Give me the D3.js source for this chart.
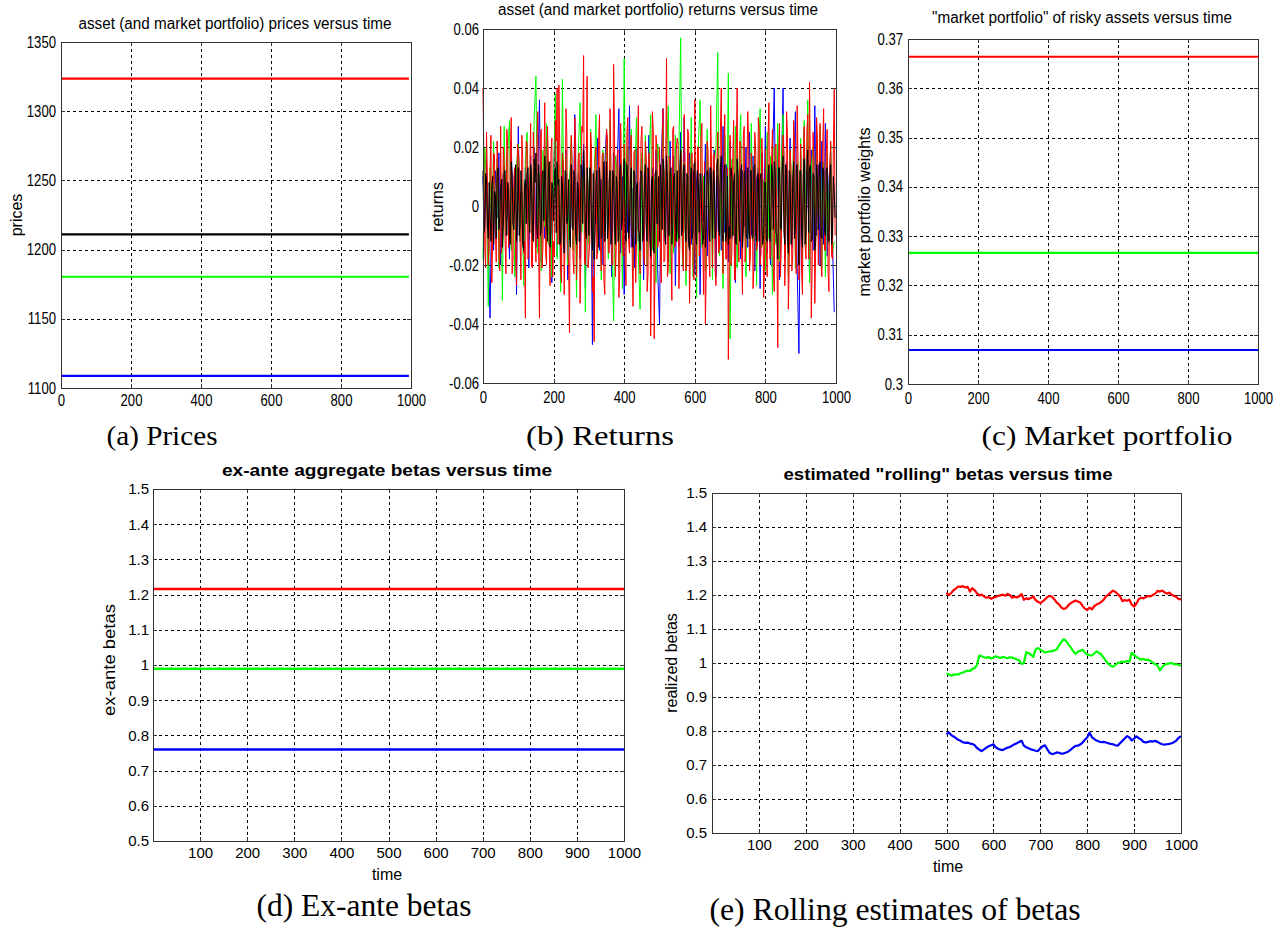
<!DOCTYPE html>
<html><head><meta charset="utf-8">
<script src="https://cdn.jsdelivr.net/npm/d3@7"></script>
<style>
body{margin:0;background:#fff;}
svg{display:block;background:#fff;}
</style></head><body>
<svg id="fig" width="1288" height="930"></svg>
<script>
// ================= DATA =================
const seriesNames  = ["asset 1", "asset 2", "asset 3", "market"];
const seriesColors = ["#0000ff", "#00ff00", "#ff0000", "#000000"];

// (a) prices (flat over time)
const priceLevels = [1108.7, 1180.4, 1323.5, 1211.0];
const priceTicks  = [1100, 1150, 1200, 1250, 1300, 1350];

// (c) market portfolio weights (3 risky assets)
const weightLevels = [0.3069, 0.3266, 0.3664];
const weightTicks  = [0.30, 0.31, 0.32, 0.33, 0.34, 0.35, 0.36, 0.37];

// (d) ex-ante betas
const betaLevels = [0.760, 0.989, 1.216];
const betaTicks  = [0.5, 0.6, 0.7, 0.8, 0.9, 1.0, 1.1, 1.2, 1.3, 1.4, 1.5];

// time ticks
const timeTicksTop    = [0, 200, 400, 600, 800, 1000];
const timeTicksBottom = [100, 200, 300, 400, 500, 600, 700, 800, 900, 1000];
const timeSpan = [0, 1000];
const priceSpan = [0, 994];

// (b) returns, sampled every 5 periods (t = 0..995); "B" arrays are the half-way samples (t = 2.5..997.5)
const retStep = 5;
const retTicks = [-0.06, -0.04, -0.02, 0, 0.02, 0.04, 0.06];
const retBlue = [
 0.010,-0.008,0.015,-0.012,-0.038,0.006,-0.015,0.012,-0.004,0.018,
 -0.020,0.008,0.014,-0.010,0.003,-0.018,0.022,-0.006,0.011,-0.030,
 0.027,-0.012,0.005,-0.016,0.013,0.004,-0.021,0.017,-0.009,0.020,
 -0.014,0.010,0.036,-0.019,0.007,-0.011,0.024,-0.004,0.015,-0.026,
 0.012,0.028,-0.017,0.006,-0.022,0.016,-0.008,0.019,-0.025,0.009,
 0.014,-0.013,0.031,-0.007,0.011,-0.018,0.005,0.021,-0.028,0.008,
 -0.010,0.017,-0.047,0.012,-0.006,0.023,-0.015,0.009,-0.020,0.014,
 0.026,-0.011,0.007,-0.024,0.018,-0.005,0.013,0.033,-0.016,0.010,
 -0.030,0.015,-0.009,0.034,-0.014,0.006,-0.021,0.020,-0.012,0.008,
 0.016,-0.025,0.011,-0.007,0.024,-0.018,0.013,-0.010,0.019,-0.022,
 -0.040,0.015,0.033,-0.012,0.008,-0.019,0.022,-0.006,0.017,-0.027,
 0.010,-0.014,0.025,-0.008,0.030,-0.020,0.006,0.018,-0.013,0.012,
 -0.023,0.009,0.016,-0.030,0.011,-0.005,0.021,-0.017,0.013,0.004,
 -0.012,0.019,-0.024,0.010,0.007,-0.015,0.027,-0.009,0.014,-0.019,
 0.022,-0.011,0.008,-0.026,0.016,0.005,-0.018,0.012,-0.007,0.020,
 -0.014,0.025,-0.010,0.017,-0.022,0.009,0.013,-0.028,0.018,-0.006,
 0.027,-0.016,0.011,-0.020,0.014,0.040,-0.012,0.021,-0.025,0.008,
 0.040,-0.018,0.015,-0.009,0.023,-0.014,0.010,0.032,-0.021,-0.050,
 0.017,-0.011,0.026,-0.008,0.012,-0.024,0.019,-0.015,0.034,-0.010,
 0.014,-0.020,0.022,-0.013,0.028,-0.017,0.009,0.018,-0.012,-0.036];
const retGreen = [
 -0.018,0.020,0.008,-0.034,0.013,-0.010,0.022,-0.006,0.016,-0.021,
 0.012,-0.032,0.027,-0.009,0.018,0.029,-0.015,0.006,-0.024,0.014,
 0.021,-0.012,0.009,-0.027,0.016,0.025,-0.008,0.013,-0.019,0.030,
 0.044,-0.016,0.011,-0.022,0.019,-0.007,0.028,-0.013,0.015,-0.024,
 0.010,0.038,-0.018,0.014,-0.029,0.043,-0.011,0.017,-0.020,0.008,
 0.023,-0.015,0.012,-0.031,0.018,0.035,-0.009,0.014,-0.036,0.021,
 -0.013,0.026,-0.020,0.010,0.031,-0.016,0.013,-0.025,0.019,-0.008,
 0.022,-0.018,0.029,-0.012,-0.039,0.017,0.011,-0.021,0.015,-0.028,
 0.050,-0.014,0.020,-0.009,0.026,-0.022,0.012,0.030,-0.017,-0.035,
 0.018,-0.011,0.024,-0.020,0.014,0.031,-0.015,0.009,-0.026,0.021,
 0.013,-0.019,0.027,-0.010,0.016,0.034,-0.023,0.011,-0.016,0.024,
 -0.012,0.019,0.057,-0.020,0.015,-0.027,0.022,-0.009,0.030,-0.024,
 0.017,-0.031,0.021,0.036,-0.014,0.010,-0.022,0.026,-0.011,0.018,
 -0.025,0.014,0.020,0.052,-0.017,0.011,-0.028,0.024,-0.013,0.045,
 -0.045,0.016,-0.010,0.027,-0.021,0.013,0.031,-0.016,0.020,-0.024,
 0.011,-0.018,0.028,-0.012,0.022,-0.027,0.015,0.033,-0.014,0.009,
 -0.022,0.025,-0.011,0.017,-0.030,0.020,-0.013,0.028,-0.019,0.014,
 0.031,-0.016,0.012,-0.024,0.019,-0.009,0.026,-0.021,0.015,-0.012,
 0.023,-0.018,0.029,-0.014,0.036,-0.026,0.013,0.020,-0.017,0.024,
 -0.011,0.027,-0.021,0.015,-0.024,0.018,-0.013,0.021,-0.016,-0.012];
const retRed = [
 0.040,-0.014,0.025,-0.020,0.012,-0.026,0.018,-0.008,0.022,-0.017,
 0.027,-0.011,0.015,-0.023,0.020,-0.009,0.030,-0.018,0.013,-0.027,
 0.019,-0.012,0.024,-0.016,-0.038,0.021,-0.010,0.028,-0.021,0.015,
 -0.019,0.032,-0.038,0.026,-0.013,0.035,-0.020,0.017,-0.027,0.023,
 -0.012,0.029,0.040,0.041,-0.022,0.018,-0.030,0.033,-0.015,-0.043,
 0.024,-0.018,0.030,-0.025,0.016,-0.033,0.027,0.051,-0.020,0.044,
 -0.017,0.025,-0.029,-0.046,0.020,-0.013,0.031,-0.022,0.018,-0.030,
 0.026,-0.015,0.033,-0.020,0.048,-0.024,0.017,-0.031,0.028,-0.012,
 0.021,-0.027,0.030,-0.016,0.024,-0.034,0.019,-0.011,0.034,-0.023,
 0.027,-0.017,0.022,-0.029,0.018,-0.044,0.032,-0.045,0.024,-0.014,
 0.020,-0.026,0.033,-0.018,0.050,-0.021,0.016,-0.032,0.027,-0.013,
 0.023,-0.028,0.019,-0.015,0.031,-0.022,0.026,-0.033,0.017,-0.019,
 0.036,-0.024,0.020,-0.012,0.028,-0.030,-0.040,0.022,-0.017,0.034,
 -0.021,0.018,-0.027,0.025,-0.014,0.040,-0.023,0.031,-0.018,-0.052,
 0.024,-0.016,0.029,-0.025,0.040,-0.019,0.021,-0.030,0.027,-0.013,
 0.032,-0.022,0.018,-0.028,0.025,-0.015,0.030,-0.020,0.023,-0.031,
 0.019,-0.024,0.035,-0.017,0.026,-0.029,0.021,-0.048,0.028,-0.014,
 0.024,-0.027,0.032,-0.035,0.019,-0.022,0.029,-0.016,0.034,-0.025,
 0.021,-0.030,0.027,-0.018,0.031,0.042,-0.038,0.025,-0.033,0.030,
 -0.020,0.028,-0.024,0.033,-0.015,0.026,-0.029,0.022,-0.018,0.040];
const retRedB = [
 0.015,-0.021,0.009,-0.013,0.024,-0.010,0.017,-0.019,0.012,-0.022,
 -0.016,0.020,-0.011,0.026,-0.014,0.018,-0.023,0.010,-0.017,0.021,
 0.013,-0.025,0.016,-0.012,0.022,-0.018,0.011,-0.020,0.025,-0.009,
 0.019,-0.014,0.023,-0.021,0.010,-0.016,0.027,-0.012,0.018,-0.024,
 -0.017,0.022,-0.013,0.019,-0.026,0.014,-0.011,0.024,-0.020,0.012,
 0.016,-0.023,0.021,-0.010,0.018,-0.015,0.025,-0.019,0.013,-0.021,
 -0.012,0.019,-0.024,0.015,-0.018,0.022,-0.013,0.017,-0.025,0.011,
 0.023,-0.016,0.012,-0.020,0.026,-0.014,0.019,-0.022,0.010,-0.017,
 -0.019,0.024,-0.012,0.021,-0.015,0.018,-0.026,0.013,-0.010,0.022,
 0.014,-0.020,0.017,-0.023,0.011,-0.016,0.025,-0.018,0.020,-0.012,
 -0.015,0.022,-0.019,0.013,-0.024,0.017,-0.011,0.026,-0.014,0.019,
 0.021,-0.013,0.016,-0.022,0.012,-0.019,0.024,-0.015,0.018,-0.025,
 -0.011,0.020,-0.017,0.023,-0.013,0.015,-0.021,0.019,-0.024,0.012,
 0.017,-0.022,0.014,-0.016,0.025,-0.012,0.020,-0.018,0.013,-0.023,
 -0.020,0.016,-0.025,0.018,-0.011,0.022,-0.014,0.024,-0.019,0.010,
 0.022,-0.017,0.012,-0.021,0.019,-0.013,0.026,-0.016,0.011,-0.020,
 -0.014,0.023,-0.018,0.015,-0.022,0.020,-0.012,0.017,-0.024,0.014,
 0.018,-0.011,0.024,-0.019,0.013,-0.016,0.021,-0.023,0.015,-0.012,
 -0.022,0.017,-0.013,0.025,-0.018,0.012,-0.020,0.016,-0.014,0.023,
 0.012,-0.019,0.021,-0.015,0.018,-0.022,0.014,-0.017,0.020,-0.010];
const retMarket = [
 0.012,-0.005,0.009,-0.011,-0.002,0.007,-0.013,0.004,0.010,-0.008,
 0.006,-0.014,0.011,-0.003,0.008,-0.010,0.015,-0.006,0.003,-0.012,
 0.013,-0.007,0.005,-0.015,0.009,0.011,-0.004,0.014,-0.009,0.016,
 0.018,-0.011,0.006,-0.008,0.012,0.017,-0.006,0.010,-0.014,0.008,
 -0.005,0.013,0.015,0.009,-0.012,0.007,-0.016,0.011,-0.004,-0.010,
 0.014,-0.008,0.010,-0.013,0.006,-0.009,0.012,0.019,-0.007,0.013,
 -0.010,0.011,-0.015,-0.018,0.008,-0.004,0.013,-0.011,0.007,-0.012,
 0.015,-0.006,0.012,-0.009,0.011,-0.013,0.008,-0.010,0.014,-0.005,
 0.016,-0.012,0.009,-0.006,0.013,-0.014,0.010,0.007,-0.008,-0.015,
 0.011,-0.009,0.014,-0.012,0.008,-0.017,0.010,-0.016,0.012,-0.006,
 -0.012,0.007,0.016,-0.009,0.017,-0.010,0.011,-0.013,0.009,-0.004,
 0.012,-0.011,0.019,-0.008,0.014,-0.012,0.010,-0.015,0.013,-0.009,
 0.015,-0.013,0.008,0.011,-0.006,-0.010,-0.014,0.012,-0.007,0.013,
 -0.011,0.009,-0.008,0.016,-0.010,0.017,-0.012,0.014,-0.009,-0.013,
 -0.011,0.010,0.008,-0.012,0.016,-0.007,0.012,-0.014,0.011,-0.010,
 0.013,-0.011,0.012,-0.010,0.014,-0.012,0.011,0.009,-0.006,-0.010,
 0.008,-0.012,0.014,-0.007,0.011,0.015,-0.009,-0.018,0.013,-0.008,
 0.017,-0.013,0.012,-0.016,0.010,-0.011,0.015,-0.008,0.014,-0.020,
 0.012,-0.014,0.016,-0.009,0.019,0.013,-0.012,0.011,-0.015,0.014,
 -0.008,0.015,-0.011,0.012,-0.010,0.013,-0.012,0.014,-0.009,0.005];
const retMarketB = [
 -0.009,0.011,-0.006,0.008,-0.012,0.010,0.005,-0.011,0.013,-0.004,
 0.009,-0.007,0.012,-0.010,0.006,-0.013,0.011,-0.008,0.014,-0.005,
 -0.010,0.012,-0.013,0.007,-0.006,0.013,-0.009,0.010,-0.012,0.008,
 -0.007,0.014,-0.010,0.011,-0.005,0.009,-0.012,0.015,-0.008,0.006,
 0.011,-0.009,0.007,-0.013,0.010,-0.011,0.012,-0.006,0.009,-0.014,
 -0.007,0.012,-0.010,0.008,-0.012,0.014,-0.006,0.010,-0.011,0.007,
 0.013,-0.008,0.011,-0.009,0.012,-0.014,0.007,-0.010,0.015,-0.006,
 -0.011,0.009,-0.013,0.012,-0.007,0.010,-0.012,0.013,-0.008,0.011,
 -0.006,0.014,-0.011,0.009,-0.010,0.012,-0.013,0.008,-0.009,0.012,
 -0.012,0.010,-0.007,0.013,-0.011,0.009,-0.014,0.011,-0.006,0.010,
 0.014,-0.008,0.012,-0.013,0.009,-0.010,0.013,-0.007,0.011,-0.012,
 -0.009,0.013,-0.010,0.012,-0.008,0.011,-0.013,0.009,-0.011,0.014,
 -0.010,0.012,-0.009,0.008,-0.013,0.011,-0.007,0.010,-0.012,0.009,
 0.012,-0.011,0.014,-0.008,0.013,-0.009,0.011,-0.012,0.010,-0.007,
 0.013,-0.010,0.011,-0.013,0.009,-0.012,0.014,-0.008,0.012,-0.011,
 -0.008,0.012,-0.011,0.013,-0.009,0.010,-0.012,0.011,-0.013,0.008,
 -0.011,0.010,-0.012,0.014,-0.008,0.012,-0.010,0.013,-0.007,0.011,
 -0.009,0.014,-0.010,0.012,-0.013,0.009,-0.011,0.013,-0.008,0.012,
 -0.010,0.011,-0.013,0.012,-0.009,0.014,-0.011,0.010,-0.012,0.009,
 0.011,-0.010,0.013,-0.008,0.012,-0.011,0.009,-0.013,0.010,-0.004];

// (e) rolling betas, sampled every 5 periods from t = 500 to 1000
const rollStart = 500, rollStep = 5;
const rollRed = [
 1.207,1.199,1.206,1.214,1.219,1.225,1.224,1.226,1.222,1.224,
 1.210,1.220,1.214,1.205,1.199,1.201,1.196,1.192,1.194,1.189,
 1.192,1.195,1.197,1.199,1.201,1.198,1.203,1.200,1.192,1.195,
 1.193,1.196,1.203,1.186,1.190,1.188,1.191,1.196,1.185,1.180,
 1.176,1.181,1.187,1.194,1.197,1.195,1.187,1.178,1.172,1.163,
 1.159,1.162,1.170,1.176,1.180,1.184,1.181,1.178,1.168,1.160,
 1.156,1.163,1.158,1.167,1.172,1.175,1.180,1.186,1.196,1.201,
 1.207,1.213,1.209,1.203,1.196,1.182,1.185,1.183,1.186,1.172,
 1.166,1.175,1.188,1.192,1.190,1.194,1.197,1.196,1.200,1.204,
 1.212,1.210,1.213,1.208,1.204,1.207,1.201,1.197,1.194,1.188,1.188];
const rollGreen = [
 0.969,0.966,0.963,0.965,0.967,0.966,0.970,0.972,0.975,0.978,
 0.976,0.982,0.985,0.994,1.022,1.020,1.017,1.015,1.018,1.013,
 1.016,1.020,1.017,1.015,1.018,1.016,1.014,1.017,1.016,1.013,
 1.010,1.008,0.997,1.000,1.032,1.029,1.025,1.018,1.040,1.044,
 1.039,1.035,1.031,1.033,1.034,1.035,1.037,1.040,1.052,1.062,
 1.070,1.065,1.055,1.046,1.035,1.027,1.033,1.036,1.039,1.031,
 1.025,1.023,1.022,1.028,1.034,1.030,1.025,1.016,1.006,0.998,
 0.992,0.989,0.994,1.000,1.002,1.004,1.003,1.006,1.004,1.030,
 1.024,1.018,1.013,1.010,1.012,1.009,1.010,1.006,1.001,0.996,
 0.993,0.978,0.988,0.995,0.997,0.999,1.000,0.996,0.997,0.994,0.992];
const rollBlue = [
 0.790,0.796,0.788,0.784,0.779,0.774,0.771,0.767,0.765,0.766,
 0.763,0.762,0.758,0.750,0.745,0.741,0.746,0.751,0.755,0.758,
 0.761,0.752,0.748,0.745,0.744,0.748,0.751,0.753,0.757,0.761,
 0.764,0.768,0.771,0.757,0.752,0.749,0.746,0.744,0.742,0.741,
 0.749,0.755,0.758,0.746,0.736,0.732,0.734,0.737,0.736,0.733,
 0.734,0.737,0.740,0.745,0.751,0.756,0.757,0.760,0.766,0.774,
 0.781,0.795,0.782,0.776,0.772,0.769,0.767,0.768,0.766,0.764,
 0.762,0.761,0.758,0.757,0.764,0.771,0.778,0.785,0.781,0.772,
 0.778,0.784,0.779,0.775,0.768,0.766,0.768,0.770,0.769,0.771,
 0.768,0.764,0.761,0.760,0.761,0.762,0.764,0.767,0.772,0.780,0.785];

// ================= DRAWING =================
const SANS = "'Liberation Sans', Arial, Helvetica, sans-serif";
const SERIF = "'Liberation Serif', 'Times New Roman', Times, serif";
const svg = d3.select("#fig");

function fit(sel, len){ sel.attr("textLength", len).attr("lengthAdjust", "spacingAndGlyphs"); }
function condense(sel, f){
  sel.each(function(){
    const w = this.getComputedTextLength();
    if (w > 0) d3.select(this).attr("textLength", w * f).attr("lengthAdjust", "spacingAndGlyphs");
  });
}
const fmtTrim = d => String(+d.toFixed(2));

function panel(o){
  const x = d3.scaleLinear().domain(o.xd).range([o.l, o.r]);
  const y = d3.scaleLinear().domain(o.yd).range([o.b, o.t]);
  const W = o.r - o.l, H = o.b - o.t;
  const g = svg.append("g");

  // dotted grid (interior ticks only)
  const gx = g.append("g").attr("transform", `translate(0,${o.b})`)
    .call(d3.axisBottom(x).tickValues(o.xt.filter(v => v > o.xd[0] && v < o.xd[1])).tickSize(-H).tickFormat(""));
  const gy = g.append("g").attr("transform", `translate(${o.l},0)`)
    .call(d3.axisLeft(y).tickValues(o.yt.filter(v => v > o.yd[0] && v < o.yd[1])).tickSize(-W).tickFormat(""));
  [gx, gy].forEach(a => {
    a.select(".domain").remove();
    a.selectAll("line").attr("stroke", "#000").attr("stroke-width", 1)
      .attr("stroke-dasharray", "3,3").attr("shape-rendering", "crispEdges");
  });

  // data
  const dg = g.append("g");
  o.draw(dg, x, y);

  // box
  g.append("rect").attr("x", o.l + 0.5).attr("y", o.t + 0.5).attr("width", W).attr("height", H)
    .attr("fill", "none").attr("stroke", "#333").attr("stroke-width", 1).attr("shape-rendering", "crispEdges");

  // inward tick marks on all four sides
  const tk = 4;
  const sides = [
    [d3.axisBottom(x).tickValues(o.xt), `translate(0,${o.b})`],
    [d3.axisTop(x).tickValues(o.xt), `translate(0,${o.t})`],
    [d3.axisLeft(y).tickValues(o.yt), `translate(${o.l},0)`],
    [d3.axisRight(y).tickValues(o.yt), `translate(${o.r},0)`]
  ];
  sides.forEach(([ax, tr]) => {
    const a = g.append("g").attr("transform", tr).call(ax.tickSize(-tk).tickFormat(""));
    a.select(".domain").remove();
    a.selectAll("line").attr("stroke", "#333").attr("shape-rendering", "crispEdges");
  });

  // tick labels
  const lx = g.append("g").attr("transform", `translate(0,${o.b})`)
    .call(d3.axisBottom(x).tickValues(o.xl).tickSize(0).tickPadding(o.xpad).tickFormat(d => String(d)));
  const ly = g.append("g").attr("transform", `translate(${o.l},0)`)
    .call(d3.axisLeft(y).tickValues(o.yt).tickSize(0).tickPadding(o.ypad).tickFormat(o.yf));
  [lx, ly].forEach(a => {
    a.select(".domain").remove();
    a.attr("font-family", SANS).attr("font-size", o.fs);
    a.selectAll("text").attr("fill", "#000");
  });
  if (o.cond) { condense(lx.selectAll("text"), o.cond); condense(ly.selectAll("text"), o.cond); }

  // title
  const tt = g.append("text").attr("x", o.title.x).attr("y", o.title.y).attr("text-anchor", "middle")
    .attr("font-family", SANS).attr("font-size", 16).attr("font-weight", o.title.bold ? "bold" : "normal")
    .attr("fill", "#000").text(o.title.s);
  fit(tt, o.title.len);

  // y label
  const yl = g.append("text").attr("transform", `translate(${o.ylab.x},${o.ylab.y}) rotate(-90)`)
    .attr("text-anchor", "middle").attr("font-family", SANS).attr("font-size", 16).attr("fill", "#000")
    .text(o.ylab.s);
  if (o.ylab.len) fit(yl, o.ylab.len);

  // x label
  if (o.xlab) {
    g.append("text").attr("x", o.xlab.x).attr("y", o.xlab.y).attr("text-anchor", "middle")
      .attr("font-family", SANS).attr("font-size", 16).attr("fill", "#000").text(o.xlab.s);
  }
  return {x, y};
}

function flatLines(dg, x, y, levels, span, width){
  const line = d3.line().x(d => x(d[0])).y(d => y(d[1]));
  levels.forEach((v, i) => {
    dg.append("path").datum([[span[0], v], [span[1], v]])
      .attr("d", line).attr("fill", "none").attr("stroke", seriesColors[i]).attr("stroke-width", width);
  });
}

// interleave full-step samples with half-step samples into [t, value] pairs
function interleave(a, b, step){
  const out = [];
  a.forEach((v, i) => {
    out.push([i * step, v]);
    if (b && i < b.length) out.push([i * step + step / 2, b[i]]);
  });
  return out;
}

// (a) prices
panel({
  l: 61, r: 411, t: 42, b: 388, xd: timeSpan, yd: [1100, 1350],
  xt: timeTicksTop, xl: timeTicksTop, yt: priceTicks, yf: d => String(d),
  fs: 16, cond: 0.82, xpad: 6.5, ypad: 5,
  title: {s: "asset (and market portfolio) prices versus time", x: 235, y: 28.5, len: 313},
  ylab: {s: "prices", x: 22, y: 215},
  draw: (dg, x, y) => flatLines(dg, x, y, priceLevels, priceSpan, 2.2)
});

// (b) returns
panel({
  l: 483, r: 836, t: 29, b: 383, xd: timeSpan, yd: [-0.06, 0.06],
  xt: timeTicksTop, xl: timeTicksTop, yt: retTicks,
  yf: d => d === 0 ? "0" : (d < 0 ? "-" : "") + Math.abs(d).toFixed(2),
  fs: 16, cond: 0.82, xpad: 8.5, ypad: 4,
  title: {s: "asset (and market portfolio) returns versus time", x: 658, y: 15, len: 320},
  ylab: {s: "returns", x: 443, y: 207},
  draw: (dg, x, y) => {
    const line = d3.line().x(d => x(d[0])).y(d => y(d[1]));
    const sets = [interleave(retBlue, null, retStep), interleave(retGreen, null, retStep),
                  interleave(retRed, retRedB, retStep), interleave(retMarket, retMarketB, retStep)];
    sets.forEach((s, k) => {
      dg.append("path").datum(s).attr("d", line).attr("fill", "none")
        .attr("stroke", seriesColors[k]).attr("stroke-width", 1);
    });
  }
});

// (c) market portfolio weights
panel({
  l: 908, r: 1258, t: 39, b: 384, xd: timeSpan, yd: [0.30, 0.37],
  xt: timeTicksTop, xl: timeTicksTop, yt: weightTicks, yf: fmtTrim,
  fs: 16, cond: 0.82, xpad: 9, ypad: 5,
  title: {s: "\"market portfolio\" of risky assets versus time", x: 1082, y: 23, len: 300},
  ylab: {s: "market portfolio weights", x: 870, y: 212},
  draw: (dg, x, y) => flatLines(dg, x, y, weightLevels, timeSpan, 2.2)
});

// (d) ex-ante betas
panel({
  l: 153, r: 624, t: 489, b: 841, xd: timeSpan, yd: [0.5, 1.5],
  xt: timeTicksBottom, xl: timeTicksBottom, yt: betaTicks, yf: d => String(+d.toFixed(1)),
  fs: 15, cond: 0, xpad: 6.5, ypad: 4,
  title: {s: "ex-ante aggregate betas versus time", x: 387, y: 475.5, len: 330, bold: true},
  ylab: {s: "ex-ante betas", x: 115, y: 660, len: 112},
  xlab: {s: "time", x: 387, y: 880},
  draw: (dg, x, y) => flatLines(dg, x, y, betaLevels, timeSpan, 2.5)
});

// (e) rolling betas
panel({
  l: 712, r: 1181, t: 493, b: 833, xd: timeSpan, yd: [0.5, 1.5],
  xt: timeTicksBottom, xl: timeTicksBottom, yt: betaTicks, yf: d => String(+d.toFixed(1)),
  fs: 15, cond: 0, xpad: 6.5, ypad: 5,
  title: {s: "estimated \"rolling\" betas versus time", x: 948, y: 479.5, len: 329, bold: true},
  ylab: {s: "realized betas", x: 677, y: 663},
  xlab: {s: "time", x: 948, y: 872},
  draw: (dg, x, y) => {
    const line = d3.line().x((d, i) => x(rollStart + i * rollStep)).y(d => y(d));
    [rollBlue, rollGreen, rollRed].forEach((s, k) => {
      dg.append("path").datum(s).attr("d", line).attr("fill", "none")
        .attr("stroke", seriesColors[k]).attr("stroke-width", 2.2).attr("stroke-linejoin", "round");
    });
  }
});

// captions
const captions = [
  {s: "(a) Prices", x: 162, y: 445, len: 111, fs: 28},
  {s: "(b) Returns", x: 600, y: 445, len: 148, fs: 28},
  {s: "(c) Market portfolio", x: 1107, y: 445, len: 251, fs: 28},
  {s: "(d) Ex-ante betas", x: 364, y: 916, len: 215, fs: 31},
  {s: "(e) Rolling estimates of betas", x: 895, y: 920, len: 371, fs: 31}
];
captions.forEach(c => {
  const t = svg.append("text").attr("x", c.x).attr("y", c.y).attr("text-anchor", "middle")
    .attr("font-family", SERIF).attr("font-size", c.fs).attr("fill", "#000").text(c.s);
  fit(t, c.len);
});
</script>
</body></html>
